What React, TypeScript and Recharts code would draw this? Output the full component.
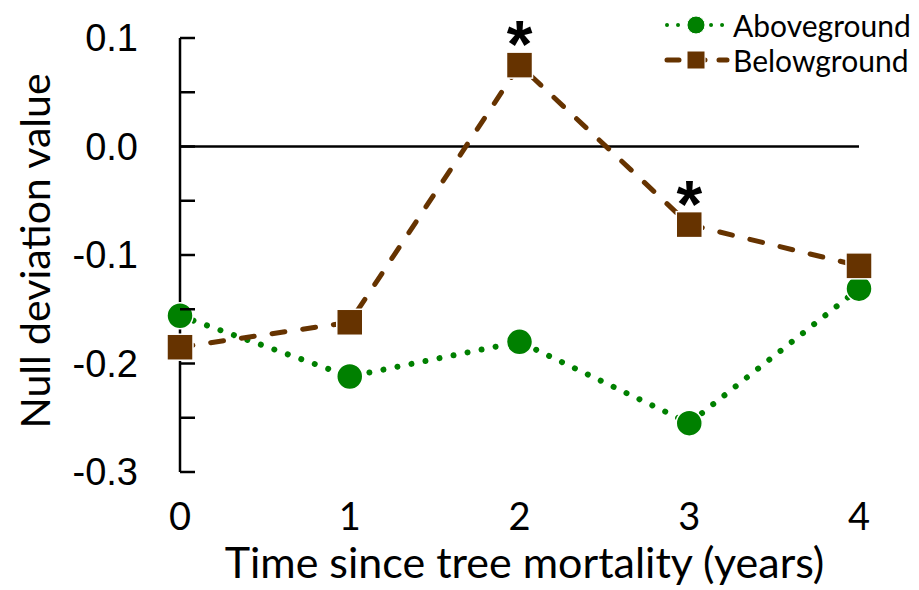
import React from 'react';
import { LineChart, Line, XAxis, YAxis, ReferenceLine, LabelList, Label } from 'recharts';

const years = [0, 1, 2, 3, 4];
const aboveground = [-0.156, -0.212, -0.18, -0.255, -0.131];
const belowground = [-0.185, -0.162, 0.075, -0.072, -0.11];
const belowSig = ['', '', '*', '*', ''];
const yTicks = [-0.3, -0.25, -0.2, -0.15, -0.1, -0.05, 0, 0.05, 0.1];
const seriesNames = ['Aboveground', 'Belowground'];

const GREEN = '#008000';
const BROWN = '#663300';
const TEXT_FONT = 'Lato, sans-serif';
const TICK_FONT = '"Liberation Sans", Arial, sans-serif';

const data = years.map((t, i) => ({
  t,
  above: aboveground[i],
  below: belowground[i],
  sig: belowSig[i],
}));

const CircleDot = (props: any) => {
  const { cx, cy } = props;
  if (cx == null || cy == null) return null;
  return <circle cx={cx} cy={cy} r={13} fill={GREEN} stroke="#fff" strokeWidth={1.5} />;
};

const SquareDot = (props: any) => {
  const { cx, cy } = props;
  if (cx == null || cy == null) return null;
  return <rect x={cx - 13} y={cy - 13} width={26} height={26} fill={BROWN} stroke="#fff" strokeWidth={1.5} />;
};

const YTick = (props: any) => {
  const { x, y, payload } = props;
  const v = payload.value;
  const major = Math.abs(Math.round(v * 10) - v * 10) < 1e-6;
  return (
    <g>
      <line x1={x + 42} x2={x + 57} y1={y} y2={y} stroke="#000" strokeWidth={2.5} />
      {major && (
        <text x={x} y={y} textAnchor="end" dominantBaseline="central" fontFamily={TICK_FONT} fontSize={38} fill="#000">
          {v.toFixed(1)}
        </text>
      )}
    </g>
  );
};

const YTitle = (props: any) => {
  const { viewBox } = props;
  const cx = viewBox.x + 34;
  const cy = viewBox.y + viewBox.height / 2 - 4;
  return (
    <text x={cx} y={cy} transform={`rotate(-90 ${cx} ${cy})`} textAnchor="middle" dominantBaseline="central"
      fontFamily={TEXT_FONT} fontSize={41} fill="#000">
      Null deviation value
    </text>
  );
};

const XTitle = (props: any) => {
  const { viewBox } = props;
  const cx = viewBox.x + viewBox.width / 2 + 5;
  return (
    <text x={cx} y={viewBox.y + 106} textAnchor="middle" fontFamily={TEXT_FONT} fontSize={43} fill="#000">
      Time since tree mortality (years)
    </text>
  );
};

const SigLabel = (props: any) => {
  const { x, y, value } = props;
  if (!value) return null;
  return (
    <text x={x} y={y + 2} textAnchor="middle" fontFamily={TICK_FONT} fontWeight="bold" fontSize={66} fill="#000">
      {value}
    </text>
  );
};

const ChartLegend = () => {
  const rows = [
    { name: seriesNames[0], color: GREEN, dash: '0.01 11', width: 4 },
    { name: seriesNames[1], color: BROWN, dash: '12 14', width: 5 },
  ];
  return (
    <svg width={259} height={80} style={{ position: 'absolute', left: 660, top: 0 }}>
      {rows.map((r, i) => {
        const cy = 25 + i * 35;
        return (
          <g key={r.name}>
            <line x1={7} x2={67} y1={cy} y2={cy} stroke={r.color} strokeWidth={r.width}
              strokeDasharray={r.dash} strokeLinecap="round" />
            {i === 0
              ? <circle cx={36} cy={cy} r={9} fill={r.color} stroke="#fff" strokeWidth={1} />
              : <rect x={27} y={cy - 9} width={18} height={18} fill={r.color} stroke="#fff" strokeWidth={1} />}
            <text x={73} y={cy} dominantBaseline="central" fontFamily={TEXT_FONT} fontSize={30} fill="#000">
              {r.name}
            </text>
          </g>
        );
      })}
    </svg>
  );
};

export default function App() {
  return (
    <div style={{ position: 'absolute', left: 0, top: 0, width: 919, height: 590, background: '#fff' }}>
      <LineChart width={919} height={590} data={data} margin={{ top: 38, right: 60, bottom: 0, left: 0 }}>
        <XAxis dataKey="t" type="number" domain={[0, 4]} ticks={years} axisLine={false} tickLine={false}
          tickSize={0} tickMargin={31} height={118}
          tick={{ fontFamily: TEXT_FONT, fontSize: 38, fill: '#000' }}>
          <Label content={<XTitle />} />
        </XAxis>
        <YAxis type="number" domain={[-0.3, 0.1]} ticks={yTicks} interval={0} width={180}
          axisLine={{ stroke: '#000', strokeWidth: 2.5 }} tickLine={false} tickSize={0} tickMargin={42}
          tick={<YTick />}>
          <Label content={<YTitle />} />
        </YAxis>
        <ReferenceLine y={0} stroke="#000" strokeWidth={2.5} />
        <Line dataKey="above" name={seriesNames[0]} stroke={GREEN} strokeWidth={6} strokeDasharray="0.01 14.3"
          strokeLinecap="round" dot={<CircleDot />} activeDot={false} isAnimationActive={false} />
        <Line dataKey="below" name={seriesNames[1]} stroke={BROWN} strokeWidth={5} strokeDasharray="13 18"
          strokeLinecap="round" dot={<SquareDot />} activeDot={false} isAnimationActive={false}>
          <LabelList dataKey="sig" content={<SigLabel />} />
        </Line>
      </LineChart>
      <ChartLegend />
    </div>
  );
}
